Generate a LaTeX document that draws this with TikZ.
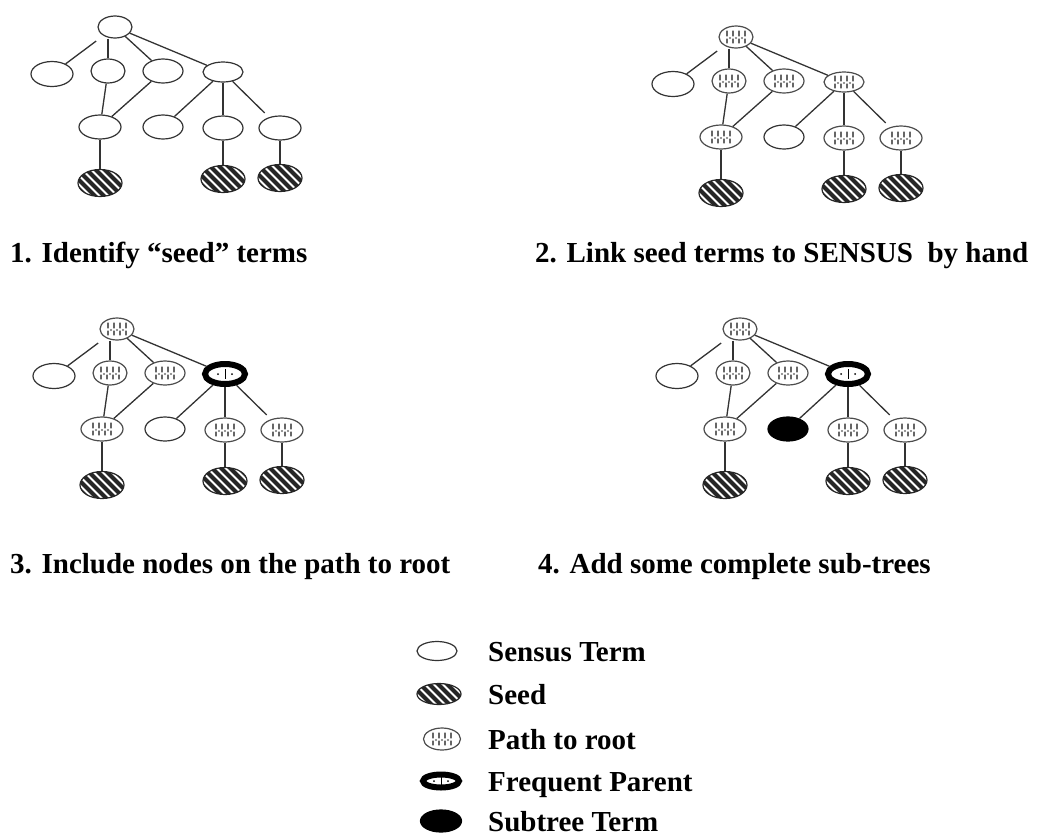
\documentclass[tikz,border=0pt]{standalone}
\usepackage{fontspec}
\setmainfont{Liberation Serif}
\usetikzlibrary{shapes.geometric}

\tikzset{
  term/.style={ellipse, draw=black!80, line width=1.2pt, fill=white, inner sep=0pt,
    minimum width=40pt, minimum height=24pt},
  sensus/.style={term},
  seed/.style={term, draw=black!85, path picture={
      \foreach \k in {-45,-36,...,45}
        \draw[line width=4pt, black!85] (path picture bounding box.center)
          ++({\k-15},-15) -- ++(30,30);}},
  pathroot/.style={term, draw=black!70, path picture={
      \foreach \dx in {-9,-3,3,9}
        \draw[black!60, line width=1.1pt, line cap=round] (path picture bounding box.center)
          ++(\dx,-6) -- ++(0,5) ++(0,3) -- ++(0,4);
      \foreach \dx in {-6,0,6}
        \fill[black!55] (path picture bounding box.center) ++(\dx,1) circle (1.1pt);}},
  freq/.style={term, draw=black, line width=6pt, path picture={
      \draw[black, line width=1pt] (path picture bounding box.center) ++(0,-5) -- ++(0,10);
      \fill[black] (path picture bounding box.center) ++(-7,0) circle (1pt);
      \fill[black] (path picture bounding box.center) ++(7,0) circle (1pt);}},
  subtree/.style={term, draw=black, fill=black},
  edge/.style={draw=black!80, line width=1.3pt},
  caption/.style={anchor=base west, inner sep=0pt,
    font=\fontsize{29}{34}\selectfont\bfseries},
}

% One taxonomy fragment; #1 = style of the path nodes,
% #2 = style of the right-hand parent, #3 = style of its left child
\newcommand\drawtree[3]{%
  \node[#1, minimum width=34pt, minimum height=22pt] (root) at (0,0) {};
  \node[sensus, minimum width=42pt, minimum height=25pt] (A) at (-63,47) {};
  \node[#1, minimum width=34pt] (B) at (-7,44) {};
  \node[#1] (C) at (48,44) {};
  \node[#2, minimum width=40pt, minimum height=20pt] (D) at (108,45) {};
  \node[#1, minimum width=42pt] (E) at (-15,100) {};
  \node[#3, minimum width=40pt] (F) at (48,100) {};
  \node[#1] (G) at (108,101) {};
  \node[#1, minimum width=42pt] (H) at (165,101) {};
  \node[seed, minimum width=44pt, minimum height=27pt] (S1) at (-15,156) {};
  \node[seed, minimum width=44pt, minimum height=27pt] (S2) at (108,152) {};
  \node[seed, minimum width=44pt, minimum height=27pt] (S3) at (165,151) {};
  \draw[edge, shorten <=9pt] (root) -- (A);
  \draw[edge] (B |- root.south) -- (B);
  \draw[edge] (root) -- (C);
  \draw[edge] (root) -- (D);
  \draw[edge] (B) -- (E);
  \draw[edge] (C) -- (E);
  \draw[edge] (D) -- (F);
  \draw[edge] (D) -- (G);
  \draw[edge, shorten >=6pt] (D) -- (H);
  \draw[edge] (E) -- (S1);
  \draw[edge] (G) -- (S2);
  \draw[edge] (H) -- (S3);
}

\begin{document}
\begin{tikzpicture}[x=1pt, y=-1pt]
  \fill[white] (0,0) rectangle (1039,836);
  \useasboundingbox (0,0) rectangle (1039,836);

  \begin{scope}[shift={(115,27)}, name prefix=t1-]
    \drawtree{sensus}{sensus}{sensus}
  \end{scope}
  \begin{scope}[shift={(736,37)}, name prefix=t2-]
    \drawtree{pathroot}{pathroot}{sensus}
  \end{scope}
  \begin{scope}[shift={(117,329)}, name prefix=t3-]
    \drawtree{pathroot}{freq}{sensus}
  \end{scope}
  \begin{scope}[shift={(740,329)}, name prefix=t4-]
    \drawtree{pathroot}{freq}{subtree}
  \end{scope}

  % step captions
  \node[caption] (c1) at (10,262) {1. Identify “seed” terms};
  \node[caption] (c2) at (535,262) {2. Link seed terms to SENSUS\ \ by hand};
  \node[caption] (c3) at (10,573) {3. Include nodes on the path to root};
  \node[caption] (c4) at (538,573) {4. Add some complete sub-trees};

  % legend
  \node[sensus, minimum width=40pt, minimum height=19pt] (k1) at (437,651) {};
  \node[seed, minimum width=44pt, minimum height=21pt] (k2) at (439,694) {};
  \node[pathroot, minimum width=37pt, minimum height=22pt] (k3) at (442,739) {};
  \node[freq, minimum width=36pt, minimum height=13pt] (k4) at (441,781) {};
  \node[subtree, minimum width=41pt, minimum height=22pt] (k5) at (441,821) {};
  \node[caption] (l1) at (488,661) {Sensus Term};
  \node[caption] (l2) at (488,704) {Seed};
  \node[caption] (l3) at (488,749) {Path to root};
  \node[caption] (l4) at (488,791) {Frequent Parent};
  \node[caption] (l5) at (488,831) {Subtree Term};
\end{tikzpicture}
\end{document}
